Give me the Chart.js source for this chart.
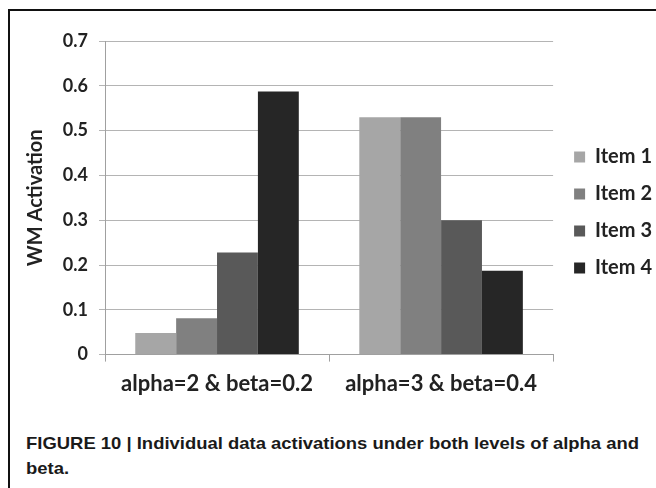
<!DOCTYPE html>
<html>
<head>
<meta charset="utf-8">
<script src="https://cdn.jsdelivr.net/npm/chart.js@4.4.0/dist/chart.umd.min.js"></script>
<style>
  html, body { margin: 0; padding: 0; background: #fff; }
  body { width: 656px; height: 488px; position: relative; overflow: hidden; }
  #frame { position: absolute; left: 8px; top: 9px; width: 700px; height: 600px; border-left: 2px solid #111; border-top: 2px solid #111; }
  #wrap { position: absolute; left: 10px; top: 11px; width: 646px; height: 395px; }
  .cap { position: absolute; left: 26px; font-family: "Liberation Sans", Arial, sans-serif; font-weight: bold; font-size: 17px; color: #1a1a1a; white-space: nowrap; transform-origin: 0 0; }
</style>
</head>
<body>
<div id="frame"></div>
<div id="wrap"><canvas id="c"></canvas></div>
<div class="cap" id="cap1" style="top:434px">FIGURE 10 | Individual data activations under both levels of alpha and</div>
<div class="cap" id="cap2" style="top:459px">beta.</div>
<script>
const categories = ["alpha=2 & beta=0.2", "alpha=3 & beta=0.4"];
const seriesNames = ["Item 1", "Item 2", "Item 3", "Item 4"];
const item1 = [0.048, 0.530];
const item2 = [0.081, 0.530];
const item3 = [0.228, 0.300];
const item4 = [0.587, 0.187];
const seriesColors = ["#a6a6a6", "#808080", "#595959", "#262626"];
const yTicks = [0, 0.1, 0.2, 0.3, 0.4, 0.5, 0.6, 0.7];

const cap1 = document.getElementById('cap1');
const cap2 = document.getElementById('cap2');
const sx = 613 / cap1.getBoundingClientRect().width;
cap1.style.transform = 'scaleX(' + sx + ')';
cap2.style.transform = 'scaleX(' + sx + ')';

const values = [item1, item2, item3, item4];
const font = "Lato, 'Open Sans', sans-serif";

const legendShift = {
  id: 'legendShift',
  afterLayout(chart) {
    const lg = chart.legend;
    if (!lg) return;
    lg.left += 4; lg.right += 4;
    lg.top -= 11; lg.bottom -= 11;
  }
};

new Chart(document.getElementById('c'), {
  type: 'bar',
  data: {
    labels: categories,
    datasets: seriesNames.map((n, i) => ({
      label: n,
      data: values[i],
      backgroundColor: seriesColors[i],
      borderWidth: 0,
      categoryPercentage: 0.73,
      barPercentage: 1.0
    }))
  },
  plugins: [legendShift],
  options: {
    responsive: true,
    maintainAspectRatio: false,
    animation: false,
    layout: { padding: { top: 30, right: -2, bottom: 0, left: 0 } },
    plugins: {
      tooltip: { enabled: false },
      legend: {
        position: 'right',
        align: 'center',
        labels: {
          boxWidth: 11,
          boxHeight: 11,
          padding: 17,
          color: '#222',
          font: { family: font, size: 20, weight: 'bold' }
        }
      }
    },
    scales: {
      x: {
        grid: { offset: true, drawOnChartArea: false, drawTicks: true, tickLength: 7, color: '#a0a0a0' },
        border: { color: '#a0a0a0' },
        ticks: { color: '#222', font: { family: font, size: 22, weight: 'bold' }, padding: 9 }
      },
      y: {
        min: 0, max: 0.7,
        afterBuildTicks: (s) => { s.ticks = yTicks.map(v => ({ value: v })); },
        afterFit: (s) => { s.width = 95; },
        grid: { color: '#b4b4b4', tickLength: 6, drawTicks: true },
        border: { color: '#a0a0a0' },
        ticks: {
          color: '#222', padding: 11,
          font: { family: font, size: 18, weight: 'bold' },
          callback: (v) => v === 0 ? '0' : v.toFixed(1)
        },
        title: {
          display: true, text: 'WM Activation', color: '#222',
          font: { family: font, size: 20, weight: 'bold' }, padding: { top: 14, bottom: 0 }
        }
      }
    }
  }
});
</script>
</body>
</html>
